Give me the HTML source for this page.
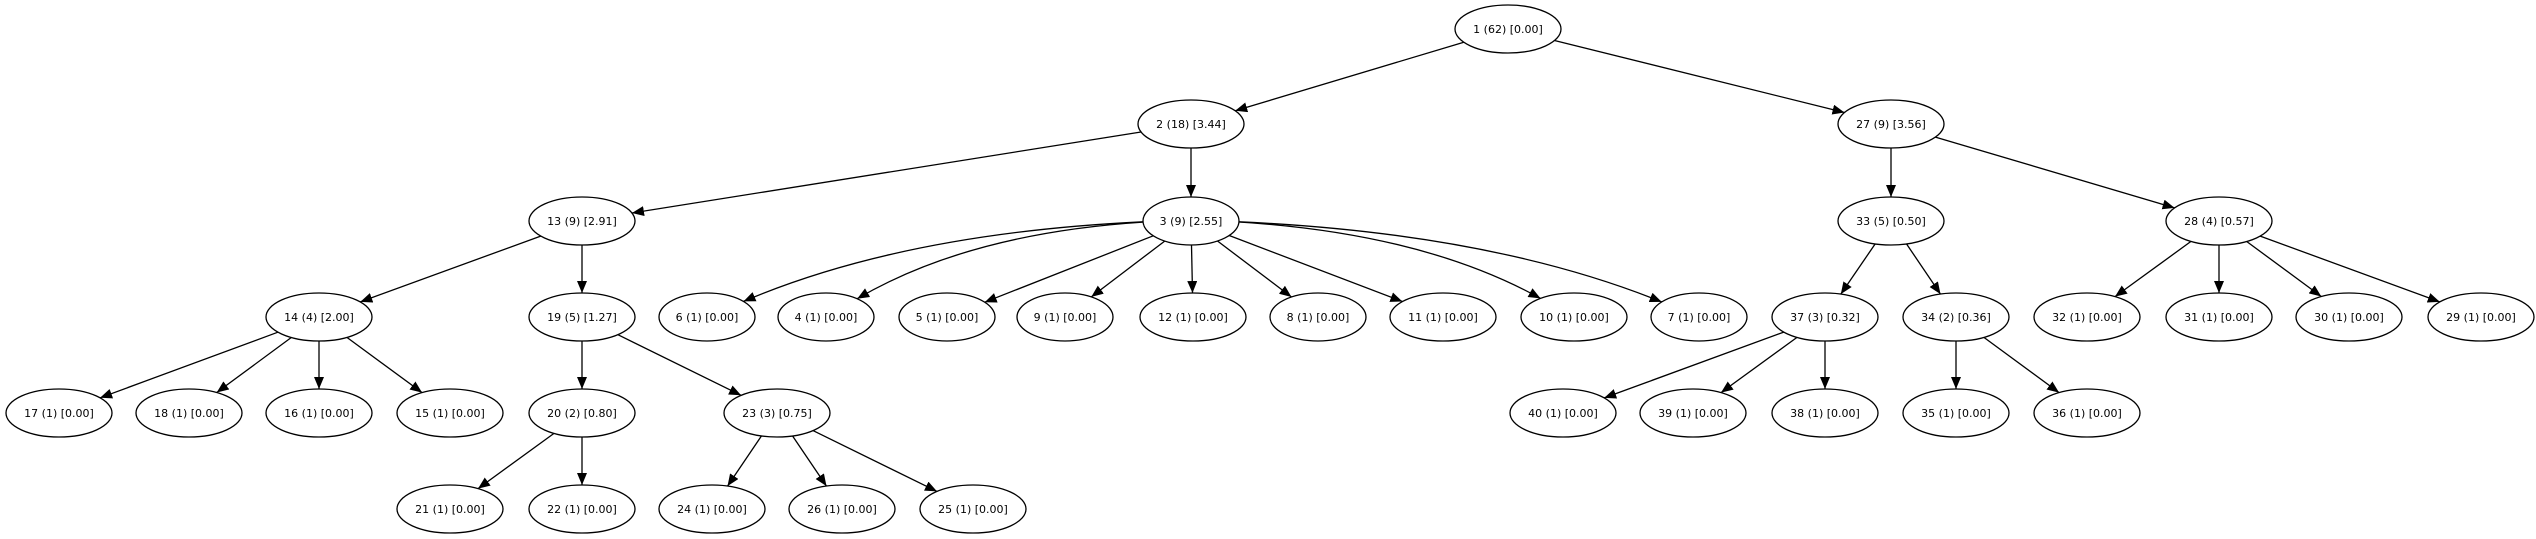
<!DOCTYPE html>
<html><head><meta charset="utf-8"><style>
html,body{margin:0;padding:0;background:#fff;}
svg{display:block;}
text{font-family:"DejaVu Sans","Liberation Sans",sans-serif;font-size:11px;fill:#000;}
</style></head><body>
<svg id="g" width="2536" height="539" viewBox="0 0 2536 539" xmlns="http://www.w3.org/2000/svg">
<defs><marker id="a" markerUnits="userSpaceOnUse" markerWidth="14" markerHeight="12" refX="12" refY="5" orient="auto"><path d="M0,0 L12,5 L0,10 z" fill="#000"/></marker></defs>
<g id="edges" stroke="#000" stroke-width="1.3" fill="none"></g>
<g id="nodes" fill="#fff" stroke="#000" stroke-width="1.3">
<ellipse cx="1508" cy="29" rx="53" ry="24"/><ellipse cx="1191" cy="124" rx="53" ry="24"/><ellipse cx="1891" cy="124" rx="53" ry="24"/>
<ellipse cx="582" cy="221" rx="53" ry="24"/><ellipse cx="1191" cy="221" rx="48" ry="24"/><ellipse cx="1891" cy="221" rx="53" ry="24"/><ellipse cx="2219" cy="221" rx="53" ry="24"/>
<ellipse cx="319" cy="317" rx="53" ry="24"/><ellipse cx="582" cy="317" rx="53" ry="24"/><ellipse cx="707" cy="317" rx="48" ry="24"/><ellipse cx="826" cy="317" rx="48" ry="24"/><ellipse cx="947" cy="317" rx="48" ry="24"/><ellipse cx="1065" cy="317" rx="48" ry="24"/><ellipse cx="1193" cy="317" rx="53" ry="24"/><ellipse cx="1318" cy="317" rx="48" ry="24"/><ellipse cx="1443" cy="317" rx="53" ry="24"/><ellipse cx="1574" cy="317" rx="53" ry="24"/><ellipse cx="1699" cy="317" rx="48" ry="24"/><ellipse cx="1825" cy="317" rx="53" ry="24"/><ellipse cx="1956" cy="317" rx="53" ry="24"/><ellipse cx="2087" cy="317" rx="53" ry="24"/><ellipse cx="2219" cy="317" rx="53" ry="24"/><ellipse cx="2349" cy="317" rx="53" ry="24"/><ellipse cx="2481" cy="317" rx="53" ry="24"/>
<ellipse cx="59" cy="413" rx="53" ry="24"/><ellipse cx="189" cy="413" rx="53" ry="24"/><ellipse cx="319" cy="413" rx="53" ry="24"/><ellipse cx="450" cy="413" rx="53" ry="24"/><ellipse cx="582" cy="413" rx="53" ry="24"/><ellipse cx="777" cy="413" rx="53" ry="24"/><ellipse cx="1563" cy="413" rx="53" ry="24"/><ellipse cx="1693" cy="413" rx="53" ry="24"/><ellipse cx="1825" cy="413" rx="53" ry="24"/><ellipse cx="1956" cy="413" rx="53" ry="24"/><ellipse cx="2087" cy="413" rx="53" ry="24"/>
<ellipse cx="450" cy="509" rx="53" ry="24"/><ellipse cx="582" cy="509" rx="53" ry="24"/><ellipse cx="712" cy="509" rx="53" ry="24"/><ellipse cx="842" cy="509" rx="53" ry="24"/><ellipse cx="973" cy="509" rx="53" ry="24"/>
</g>
<g text-anchor="middle">
<text x="1508" y="33">1 (62) [0.00]</text><text x="1191" y="128">2 (18) [3.44]</text><text x="1891" y="128">27 (9) [3.56]</text>
<text x="582" y="225">13 (9) [2.91]</text><text x="1191" y="225">3 (9) [2.55]</text><text x="1891" y="225">33 (5) [0.50]</text><text x="2219" y="225">28 (4) [0.57]</text>
<text x="319" y="321">14 (4) [2.00]</text><text x="582" y="321">19 (5) [1.27]</text><text x="707" y="321">6 (1) [0.00]</text><text x="826" y="321">4 (1) [0.00]</text><text x="947" y="321">5 (1) [0.00]</text><text x="1065" y="321">9 (1) [0.00]</text><text x="1193" y="321">12 (1) [0.00]</text><text x="1318" y="321">8 (1) [0.00]</text><text x="1443" y="321">11 (1) [0.00]</text><text x="1574" y="321">10 (1) [0.00]</text><text x="1699" y="321">7 (1) [0.00]</text><text x="1825" y="321">37 (3) [0.32]</text><text x="1956" y="321">34 (2) [0.36]</text><text x="2087" y="321">32 (1) [0.00]</text><text x="2219" y="321">31 (1) [0.00]</text><text x="2349" y="321">30 (1) [0.00]</text><text x="2481" y="321">29 (1) [0.00]</text>
<text x="59" y="417">17 (1) [0.00]</text><text x="189" y="417">18 (1) [0.00]</text><text x="319" y="417">16 (1) [0.00]</text><text x="450" y="417">15 (1) [0.00]</text><text x="582" y="417">20 (2) [0.80]</text><text x="777" y="417">23 (3) [0.75]</text><text x="1563" y="417">40 (1) [0.00]</text><text x="1693" y="417">39 (1) [0.00]</text><text x="1825" y="417">38 (1) [0.00]</text><text x="1956" y="417">35 (1) [0.00]</text><text x="2087" y="417">36 (1) [0.00]</text>
<text x="450" y="513">21 (1) [0.00]</text><text x="582" y="513">22 (1) [0.00]</text><text x="712" y="513">24 (1) [0.00]</text><text x="842" y="513">26 (1) [0.00]</text><text x="973" y="513">25 (1) [0.00]</text>
</g>
</svg>
<script>
var N={1:[1508,29,53],2:[1191,124,53],27:[1891,124,53],13:[582,221,53],3:[1191,221,48],33:[1891,221,53],28:[2219,221,53],
14:[319,317,53],19:[582,317,53],6:[707,317,48],4:[826,317,48],5:[947,317,48],9:[1065,317,48],12:[1193,317,53],8:[1318,317,48],11:[1443,317,53],10:[1574,317,53],7:[1699,317,48],37:[1825,317,53],34:[1956,317,53],32:[2087,317,53],31:[2219,317,53],30:[2349,317,53],29:[2481,317,53],
17:[59,413,53],18:[189,413,53],16:[319,413,53],15:[450,413,53],20:[582,413,53],23:[777,413,53],40:[1563,413,53],39:[1693,413,53],38:[1825,413,53],35:[1956,413,53],36:[2087,413,53],
21:[450,509,53],22:[582,509,53],24:[712,509,53],26:[842,509,53],25:[973,509,53]};
var E=[[1,2],[1,27],[2,13],[2,3],[27,33],[27,28],[13,14],[13,19],[3,6],[3,4],[3,5],[3,9],[3,12],[3,8],[3,11],[3,10],[3,7],[33,37],[33,34],[28,32],[28,31],[28,30],[28,29],[14,17],[14,18],[14,16],[14,15],[19,20],[19,23],[37,40],[37,39],[37,38],[34,35],[34,36],[20,21],[20,22],[23,24],[23,26],[23,25]];
function bd(n,tx,ty){var dx=tx-n[0],dy=ty-n[1];var t=1/Math.sqrt(dx*dx/(n[2]*n[2])+dy*dy/(24*24));return [n[0]+dx*t,n[1]+dy*t];}
var g=document.getElementById('edges'),s='';
E.forEach(function(e){var p=N[e[0]],c=N[e[1]];var dx=c[0]-p[0];
 if(e[0]==3&&Math.abs(dx)>300){var st=bd(p,c[0],p[1]+8);var cp=[st[0]+(c[0]-st[0])*0.55,st[1]+(c[1]-st[1])*0.12];var en=bd(c,cp[0],cp[1]);
  s+='<path d="M'+st[0].toFixed(1)+','+st[1].toFixed(1)+' Q'+cp[0].toFixed(1)+','+cp[1].toFixed(1)+' '+en[0].toFixed(1)+','+en[1].toFixed(1)+'" marker-end="url(#a)"/>';}
 else{var st=bd(p,c[0],c[1]),en=bd(c,p[0],p[1]);s+='<path d="M'+st[0].toFixed(1)+','+st[1].toFixed(1)+' L'+en[0].toFixed(1)+','+en[1].toFixed(1)+'" marker-end="url(#a)"/>';}
});
g.innerHTML=s;
</script>
</body></html>
